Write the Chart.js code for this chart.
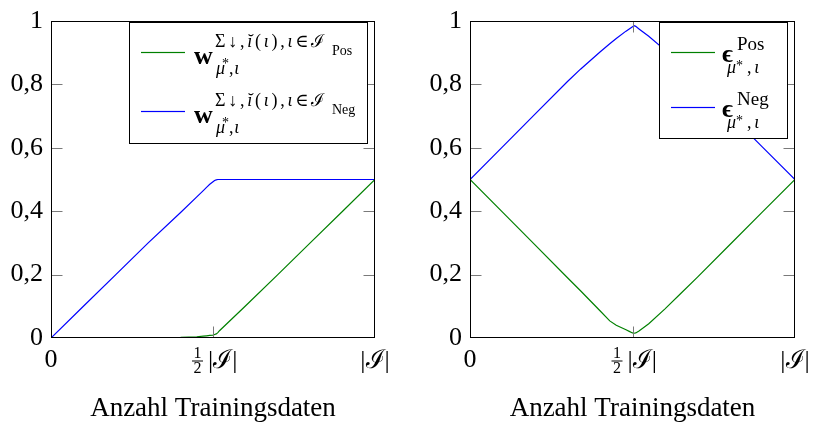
<!DOCTYPE html>
<html lang="de">
<head>
    <meta charset="UTF-8">
    <title>Anzahl Trainingsdaten</title>
    <script src="https://cdn.jsdelivr.net/npm/chart.js"></script>
    <style>
        body { margin: 0; padding: 0; background: #fff; }
        .wrap { position: relative; width: 813px; height: 426px; }
        canvas { position: absolute; top: 0; }
        #leftChart { left: 0; }
        #rightChart { left: 406px; }
    </style>
</head>
<body>
    <div class="wrap">
        <canvas id="leftChart" width="406" height="426"></canvas>
        <canvas id="rightChart" width="407" height="426"></canvas>
    </div>

    <script>
        // x = share of the training data (0 .. |I|)
        const leftX    = [0, 0.1, 0.2, 0.3, 0.4, 0.45, 0.47, 0.48, 0.49, 0.5, 0.505, 0.51, 0.515, 0.52, 0.6, 0.7, 0.8, 0.9, 1];
        const leftPos  = [0, 0, 0.001, 0.001, 0.002, 0.004, 0.006, 0.007, 0.008, 0.009, 0.011, 0.013, 0.017, 0.023, 0.101, 0.2, 0.3, 0.4, 0.5];
        const leftNeg  = [0, 0.1, 0.2, 0.3, 0.396, 0.445, 0.465, 0.475, 0.485, 0.493, 0.497, 0.499, 0.5, 0.5, 0.5, 0.5, 0.5, 0.5, 0.5];

        const rightX   = [0, 0.1, 0.2, 0.3, 0.34, 0.4, 0.43, 0.45, 0.48, 0.49, 0.5, 0.505, 0.51, 0.52, 0.55, 0.6, 0.65, 0.7, 0.8, 0.9, 1];
        const rightPos = [0.5, 0.397, 0.294, 0.19, 0.149, 0.086, 0.054, 0.04, 0.026, 0.021, 0.016, 0.015, 0.016, 0.022, 0.045, 0.092, 0.142, 0.192, 0.295, 0.398, 0.5];
        const rightNeg = [0.5, 0.603, 0.706, 0.809, 0.848, 0.902, 0.928, 0.945, 0.968, 0.975, 0.982, 0.985, 0.983, 0.975, 0.952, 0.908, 0.86, 0.81, 0.705, 0.602, 0.5];

        const yTicks = [0, 0.2, 0.4, 0.6, 0.8, 1];
        const yTickLabels = ['0', '0,2', '0,4', '0,6', '0,8', '1'];
        const xTicks = [0, 0.5, 1];
        const xTickLabels = ['0', '½|ℐ|', '|ℐ|'];
        const xTitle = 'Anzahl Trainingsdaten';
        const seriesNames = ['Pos', 'Neg'];

        const SERIF = "'Liberation Serif', 'DejaVu Serif', serif";
        const GREEN = '#008000';
        const BLUE = '#0000ff';
        const COLORS = [GREEN, BLUE];

        function toPoints(xs, ys) {
            return xs.map(function (x, i) { return { x: x, y: ys[i] }; });
        }

        // draw text, optionally stretched to a given width
        function text(ctx, str, x, y, font, width) {
            ctx.font = font;
            ctx.letterSpacing = '0px';
            if (width) {
                const w = ctx.measureText(str).width;
                const n = Array.from(str).length;
                ctx.letterSpacing = ((width - w) / n) + 'px';
            }
            ctx.fillText(str, x, y);
            ctx.letterSpacing = '0px';
        }

        // draw a row of runs with mixed fonts, spread to a given width
        function runs(ctx, parts, x, y, width) {
            let total = 0, n = 0;
            parts.forEach(function (p) {
                ctx.font = p[1];
                total += ctx.measureText(p[0]).width;
                n += Array.from(p[0]).length;
            });
            const extra = width ? (width - total) / n : 0;
            let cx = x;
            parts.forEach(function (p) {
                ctx.font = p[1];
                Array.from(p[0]).forEach(function (ch) {
                    ctx.fillText(ch, cx, y);
                    cx += ctx.measureText(ch).width + extra;
                });
            });
        }

        // frame, inward ticks and x tick labels
        const framePlugin = {
            id: 'frame',
            afterDatasetsDraw(chart) {
                const ctx = chart.ctx;
                const a = chart.chartArea;
                const xs = chart.scales.x, ys = chart.scales.y;
                const L = Math.round(a.left) + 0.5, R = Math.round(a.right) - 0.5;
                const T = Math.round(a.top) + 0.5, B = Math.round(a.bottom) - 0.5;
                ctx.save();
                ctx.strokeStyle = '#7a7a7a';
                ctx.lineWidth = 1;
                ctx.beginPath();
                yTicks.slice(1, -1).forEach(function (v) {
                    const py = Math.round(ys.getPixelForValue(v)) + 0.5;
                    ctx.moveTo(L, py); ctx.lineTo(L + 11, py);
                    ctx.moveTo(R, py); ctx.lineTo(R - 11, py);
                });
                xTicks.slice(1, -1).forEach(function (v) {
                    const px = Math.round(xs.getPixelForValue(v)) + 0.5;
                    ctx.moveTo(px, B); ctx.lineTo(px, B - 11);
                    ctx.moveTo(px, T); ctx.lineTo(px, T + 11);
                });
                ctx.stroke();
                ctx.strokeStyle = '#000';
                ctx.strokeRect(L, T, R - L, B - T);

                // x tick labels
                ctx.fillStyle = '#000';
                ctx.textBaseline = 'alphabetic';
                xTicks.forEach(function (v, i) {
                    const px = xs.getPixelForValue(v);
                    const lab = xTickLabels[i];
                    if (lab.startsWith('½')) {
                        const rest = lab.slice(1);
                        const fx = px - 15.5;
                        ctx.textAlign = 'center';
                        text(ctx, '1', fx, B + 20, '16px ' + SERIF);
                        text(ctx, '2', fx, B + 35, '16px ' + SERIF);
                        ctx.beginPath();
                        ctx.moveTo(fx - 5.5, B + 23.5); ctx.lineTo(fx + 5.5, B + 23.5);
                        ctx.stroke();
                        ctx.textAlign = 'left';
                        text(ctx, rest, px - 5, B + 30, '26px ' + SERIF);
                    } else {
                        ctx.textAlign = 'center';
                        text(ctx, lab, px, B + (lab === '0' ? 29 : 30), '26px ' + SERIF);
                    }
                });
                ctx.restore();
            }
        };

        // legend with math labels, drawn on top of the lines
        function legendPlugin(spec) {
            return {
                id: 'mathLegend',
                afterDraw(chart) {
                    const ctx = chart.ctx;
                    ctx.save();
                    ctx.fillStyle = '#fff';
                    ctx.fillRect(spec.box[0], spec.box[1], spec.box[2], spec.box[3]);
                    ctx.strokeStyle = '#000';
                    ctx.lineWidth = 1;
                    ctx.strokeRect(spec.box[0] + 0.5, spec.box[1] + 0.5, spec.box[2], spec.box[3]);
                    ctx.textAlign = 'left';
                    ctx.textBaseline = 'alphabetic';
                    seriesNames.forEach(function (name, i) {
                        const dy = i * spec.rowGap;
                        ctx.fillStyle = COLORS[i];
                        ctx.fillRect(spec.line[0], spec.line[2] + dy - 0.6, spec.line[1] - spec.line[0], 1.2);
                        ctx.fillStyle = '#000';
                        spec.draw(ctx, name, dy);
                    });
                    ctx.restore();
                }
            };
        }

        function makeChart(id, xs, pos, neg, yAxisWidth, padRight, legend) {
            return new Chart(document.getElementById(id).getContext('2d'), {
                type: 'line',
                data: {
                    datasets: [
                        { label: seriesNames[0], data: toPoints(xs, pos), borderColor: GREEN, borderWidth: 1.2, pointRadius: 0, tension: 0 },
                        { label: seriesNames[1], data: toPoints(xs, neg), borderColor: BLUE, borderWidth: 1.2, pointRadius: 0, tension: 0 }
                    ]
                },
                options: {
                    responsive: false,
                    animation: false,
                    devicePixelRatio: 1,
                    layout: { padding: { top: 14, right: padRight, left: 0, bottom: 0 } },
                    plugins: { legend: { display: false }, tooltip: { enabled: false } },
                    scales: {
                        x: {
                            type: 'linear', min: 0, max: 1,
                            grid: { display: false, drawTicks: false },
                            border: { display: false },
                            ticks: { display: false },
                            afterBuildTicks: function (s) { s.ticks = xTicks.map(function (v) { return { value: v }; }); },
                            afterFit: function (s) { s.height = 88; },
                            title: {
                                display: true, text: xTitle, color: '#000',
                                font: { family: SERIF, size: 27 },
                                padding: { top: 0, bottom: 1 }
                            }
                        },
                        y: {
                            min: 0, max: 1,
                            grid: { display: false, drawTicks: false },
                            border: { display: false },
                            afterBuildTicks: function (s) { s.ticks = yTicks.map(function (v) { return { value: v }; }); },
                            afterFit: function (s) { s.width = yAxisWidth; },
                            ticks: {
                                color: '#000', padding: 8,
                                font: { family: SERIF, size: 26, lineHeight: 1 },
                                callback: function (v, i) { return yTickLabels[i]; }
                            }
                        }
                    }
                },
                plugins: [framePlugin, legendPlugin(legend)]
            });
        }

        const UP18 = '18px ' + SERIF, IT18 = 'italic 18px ' + SERIF;

        makeChart('leftChart', leftX, leftPos, leftNeg, 51, 31, {
            box: [129, 22, 238, 121],
            line: [141, 185, 52.5],
            rowGap: 59,
            draw: function (ctx, name, dy) {
                text(ctx, 'w', 194, 64 + dy, 'bold 26px ' + SERIF);
                runs(ctx, [['Σ↓,', UP18], ['ĭ', IT18], ['(', UP18], ['ι', IT18], ['),', UP18], ['ι', IT18], ['∈ℐ', UP18]], 215, 47 + dy, 112);
                text(ctx, name, 332, 55 + dy, '14px ' + SERIF);
                text(ctx, 'μ', 216, 74 + dy, IT18);
                text(ctx, '*', 222, 68 + dy, '14px ' + SERIF);
                runs(ctx, [[',', UP18], ['ι', IT18]], 229, 74 + dy, 11);
            }
        });
        makeChart('rightChart', rightX, rightPos, rightNeg, 64, 18, {
            box: [253, 22, 128, 116],
            line: [265, 309, 52.5],
            rowGap: 55,
            draw: function (ctx, name, dy) {
                text(ctx, 'ϵ', 316, 62 + dy, 'bold 26px ' + SERIF);
                text(ctx, name, 331, 50 + dy, '19px ' + SERIF);
                text(ctx, 'μ', 321, 73 + dy, IT18);
                text(ctx, '*', 330, 70 + dy, '14px ' + SERIF);
                runs(ctx, [[',', UP18], ['ι', IT18]], 341, 73 + dy, 15);
            }
        });
    </script>
</body>
</html>
